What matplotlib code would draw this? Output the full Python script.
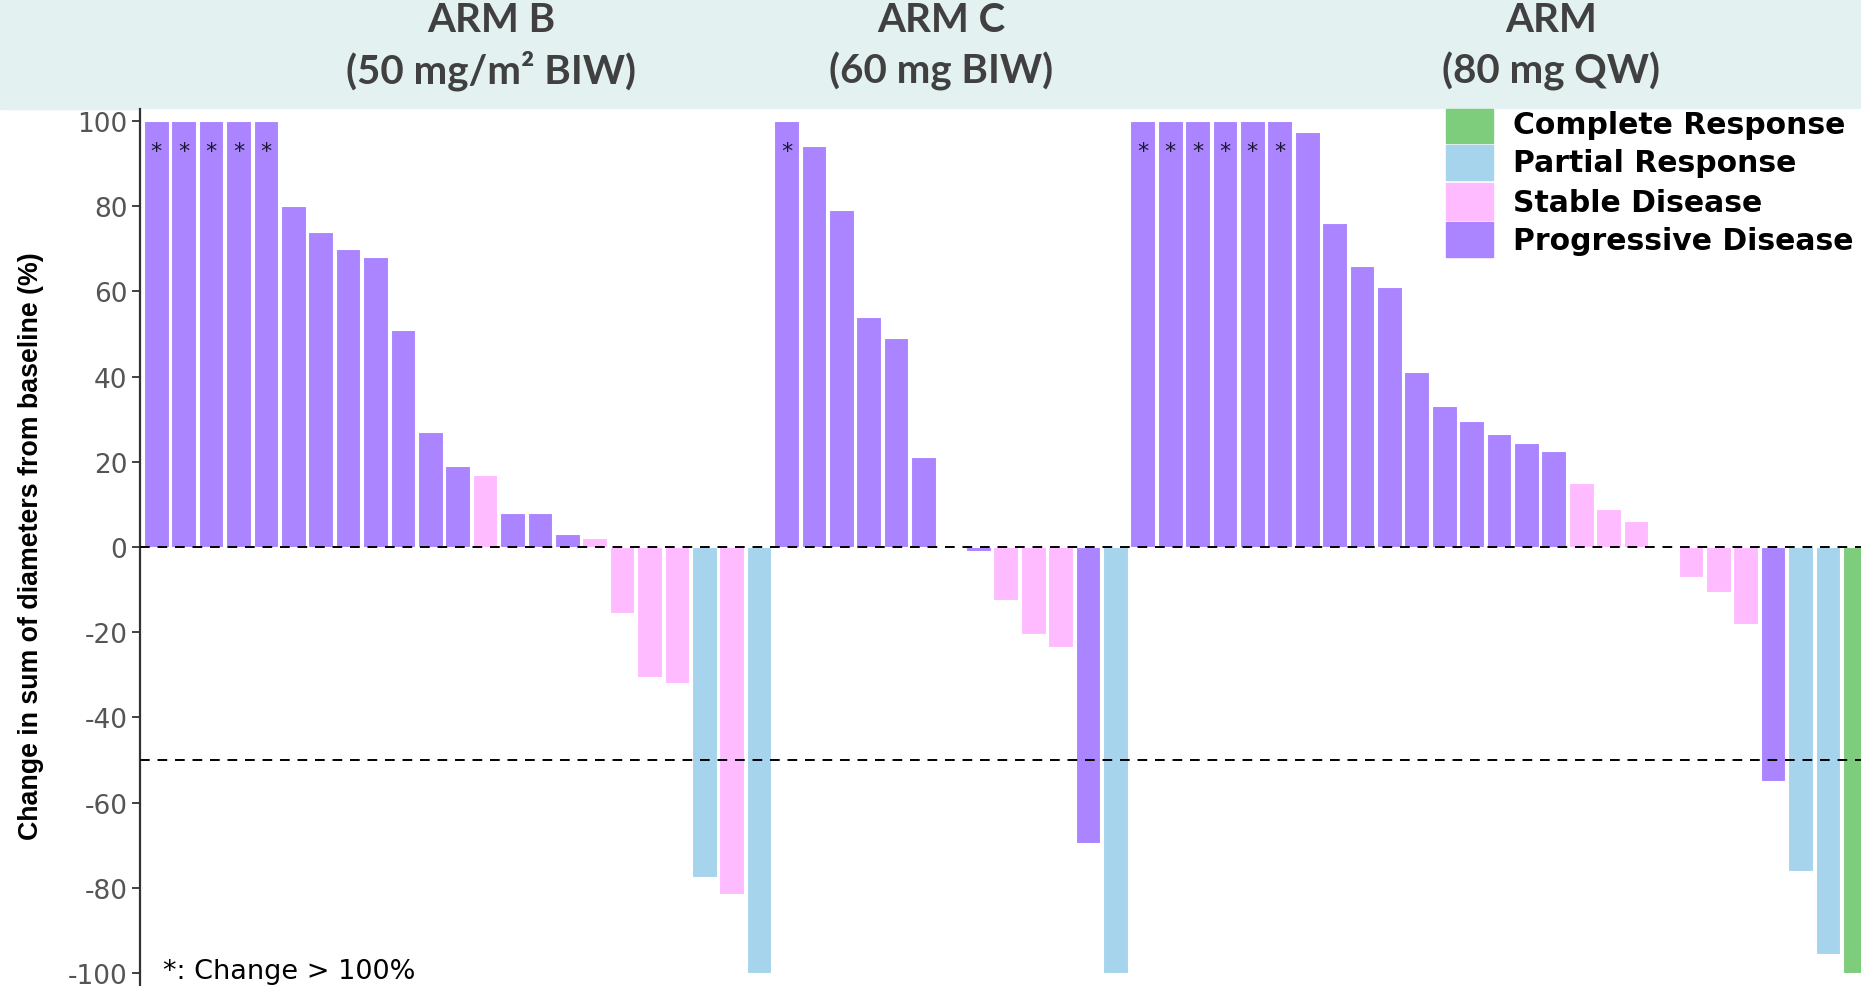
import numpy as np
import matplotlib
matplotlib.use("Agg")
import matplotlib.pyplot as plt
from matplotlib.patches import Rectangle

plt.rcParams["axes.unicode_minus"] = False

# --- data (change from baseline, %) ---
arm_titles = ["ARM B\n(50 mg/m² BIW)", "ARM C\n(60 mg BIW)", "ARM\n(80 mg QW)"]

arm_b_vals = [100, 100, 100, 100, 100, 80, 74, 70, 68, 51, 27, 19, 17, 8, 8, 3, 2,
              -15.5, -30.5, -32, -77.5, -81.5, -100]
arm_b_resp = ["PD"] * 12 + ["SD"] + ["PD"] * 3 + ["SD"] * 4 + ["PR", "SD", "PR"]
arm_b_stars = 5

arm_c_vals = [100, 94, 79, 54, 49, 21, 0, -1, -12.5, -20.5, -23.5, -69.5, -100]
arm_c_resp = ["PD"] * 6 + ["SD", "PD", "SD", "SD", "SD", "PD", "PR"]
arm_c_stars = 1

arm_d_vals = [100, 100, 100, 100, 100, 100, 97.5, 76, 66, 61, 41, 33, 29.5, 26.5, 24.5, 22.5,
              15, 9, 6, 0, -7, -10.5, -18, -55, -76, -95.5, -100]
arm_d_resp = ["PD"] * 16 + ["SD"] * 7 + ["PD", "PR", "PR", "CR"]
arm_d_stars = 6

resp_labels = {"CR": "Complete Response", "PR": "Partial Response",
               "SD": "Stable Disease", "PD": "Progressive Disease"}
resp_colors = {"CR": "#7ECD7C", "PR": "#A6D4EC", "SD": "#FFBBFF", "PD": "#AB84FF"}

vals = np.array(arm_b_vals + arm_c_vals + arm_d_vals)
resp = arm_b_resp + arm_c_resp + arm_d_resp
x = np.arange(len(vals))
starts = np.cumsum([0, len(arm_b_vals), len(arm_c_vals)])
star_idx = np.concatenate([starts[0] + np.arange(arm_b_stars),
                           starts[1] + np.arange(arm_c_stars),
                           starts[2] + np.arange(arm_d_stars)])

W, H = 1861, 987
fig = plt.figure(figsize=(W / 100, H / 100), dpi=100)
fig.patch.set_facecolor("white")

# header band
band_h = 110 / H
fig.add_artist(Rectangle((0, 1 - band_h), 1, band_h, transform=fig.transFigure,
                         color="#E3F1F1", zorder=0))

ax = fig.add_axes([140 / W, 0, 1 - 140 / W, 1 - band_h])
ax.bar(x, vals, width=0.9, color=[resp_colors[r] for r in resp],
       edgecolor="white", linewidth=0.8, zorder=2)

for i in star_idx:
    ax.text(x[i], 93, "*", ha="center", va="center", fontsize=16, color="#1a1a2e", zorder=3)

ax.axhline(0, color="black", linestyle=(0, (5, 4)), linewidth=1.4, zorder=4)
ax.axhline(-50, color="black", linestyle=(0, (5, 4)), linewidth=1.4, zorder=4)

ax.set_xlim(-0.595, 62.21)
ax.set_ylim(-103.05, 102.8)
ax.set_yticks(np.arange(-100, 101, 20))
ax.set_xticks([])
for s in ["top", "right", "bottom"]:
    ax.spines[s].set_visible(False)
ax.spines["left"].set_color("#333333")
ax.spines["left"].set_linewidth(1.6)
ax.tick_params(axis="y", length=6, width=1.3, color="#333333", labelsize=19,
               labelcolor="#555555", pad=3)

fig.text(31 / W, 1 - 546 / H, "Change in sum of diameters from baseline (%)",
         rotation=90, ha="center", va="center", fontsize=19.3, fontweight="bold",
         family=["Liberation Sans", "DejaVu Sans"])

ax.text((163 - 140) / (W - 140), 15 / (H - 110), "*: Change > 100%", transform=ax.transAxes,
        ha="left", va="center", fontsize=19.5, color="black")

# arm headers
hdr_x = [491, 941, 1551]
for t, hx in zip(arm_titles, hdr_x):
    l1, l2 = t.split("\n")
    fig.text(hx / W, 1 - 21 / H, l1, ha="center", va="center", fontsize=29,
             fontweight="bold", color="#404040", family=["Lato", "DejaVu Sans"])
    fig.text(hx / W, 1 - 71 / H, l2, ha="center", va="center", fontsize=29,
             fontweight="bold", color="#404040", family=["Lato", "DejaVu Sans"])

# legend
leg_rows = [(110, 144, 125), (146, 181, 164), (184, 221, 204), (223, 258, 242)]
for key, (y0, y1, yc) in zip(["CR", "PR", "SD", "PD"], leg_rows):
    fig.add_artist(Rectangle((1446 / W, 1 - y1 / H), 47 / W, (y1 - y0) / H,
                             transform=fig.transFigure, color=resp_colors[key], zorder=5))
    fig.text(1513 / W, 1 - yc / H, resp_labels[key], ha="left", va="center",
             fontsize=21.5, fontweight="bold", color="black")

fig.savefig("out.png", dpi=100)
